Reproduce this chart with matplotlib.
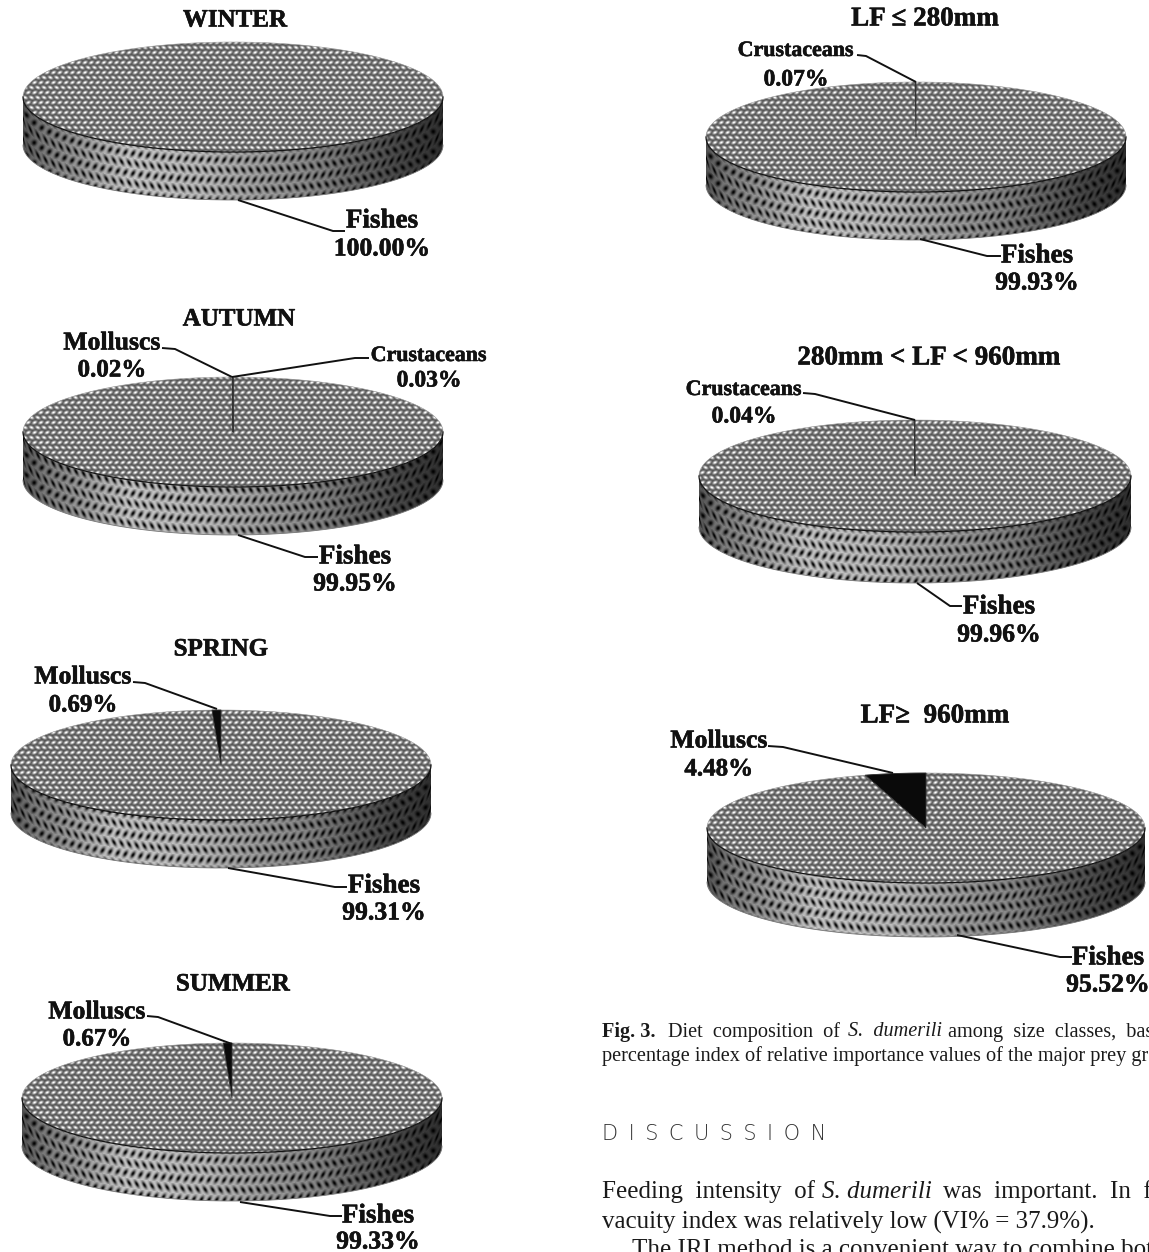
"""Flat-disc 3D pies of diet composition by season and by size class."""

import numpy as np
import matplotlib
matplotlib.use("Agg")
import matplotlib.pyplot as plt
import matplotlib.patheffects as pe
from matplotlib.path import Path
from matplotlib.patches import PathPatch

W, H = 1149, 1252
SERIF = "Liberation Serif"

# ---------------------------------------------------------------------------
# Data
# ---------------------------------------------------------------------------

panel_titles = ["WINTER", "AUTUMN", "SPRING", "SUMMER",
                "LF \u2264 280mm", "280mm < LF < 960mm", "LF\u2265  960mm"]

# slices run anticlockwise from 12 o'clock, fishes last
winter_groups = ["Fishes"]
winter_values = [100.00]
autumn_groups = ["Molluscs", "Crustaceans", "Fishes"]
autumn_values = [0.02, 0.03, 99.95]
spring_groups = ["Molluscs", "Fishes"]
spring_values = [0.69, 99.31]
summer_groups = ["Molluscs", "Fishes"]
summer_values = [0.67, 99.33]
small_groups = ["Crustaceans", "Fishes"]
small_values = [0.07, 99.93]
medium_groups = ["Crustaceans", "Fishes"]
medium_values = [0.04, 99.96]
large_groups = ["Molluscs", "Fishes"]
large_values = [4.48, 95.52]

all_groups = [winter_groups, autumn_groups, spring_groups, summer_groups,
              small_groups, medium_groups, large_groups]
all_values = [winter_values, autumn_values, spring_values, summer_values,
              small_values, medium_values, large_values]

# ---------------------------------------------------------------------------
# Layout, in figure pixels (y down)
# ---------------------------------------------------------------------------

# cx, cy, rx, ry, depth
discs = [(233, 97, 210, 55, 48), (233, 432, 210, 55, 48),
         (221, 765, 210, 55, 48), (232, 1098, 210, 55, 48),
         (916, 137, 210, 55, 48), (915, 476, 216, 56, 51),
         (926, 828, 219, 55, 54)]
title_pos = [(235, 18), (239, 317), (221, 647), (233, 982),
             (925, 17), (929, 356), (935, 714)]
title_sizes = [18, 18, 18, 18, 19.5, 19.5, 19.5]

# per panel: group -> (label x, name y, percent y, leader polyline)
callouts = [
    {"Fishes": (382, 219, 247, [(238, 200), (333, 231), (345, 231)])},
    {"Molluscs": (112, 341, 368, [(162, 348), (175, 349), (232, 377)]),
     "Crustaceans": (429, 354, 379, [(369, 358), (355, 358), (232, 377)]),
     "Fishes": (355, 555, 582, [(238, 535), (305, 557), (318, 557)])},
    {"Molluscs": (83, 675, 703, [(133, 682), (145, 683), (217, 709)]),
     "Fishes": (384, 884, 911, [(228, 868), (335, 887), (347, 887)])},
    {"Molluscs": (97, 1010, 1037, [(147, 1016), (158, 1017), (232, 1044)]),
     "Fishes": (378, 1214, 1240, [(240, 1202), (330, 1216), (342, 1216)])},
    {"Crustaceans": (796, 49, 78, [(857, 55), (866, 56), (916, 82)]),
     "Fishes": (1037, 254, 281, [(920, 239), (987, 256), (1001, 256)])},
    {"Crustaceans": (744, 388, 415, [(803, 393), (815, 394), (915, 420)]),
     "Fishes": (999, 605, 633, [(917, 583), (950, 606), (962, 606)])},
    {"Molluscs": (719, 739, 767, [(768, 746), (783, 747), (893, 773)]),
     "Fishes": (1108, 956, 983, [(957, 935), (1060, 957), (1072, 957)])},
]
name_sizes = {"Fishes": 19.5, "Molluscs": 18.5, "Crustaceans": 15.8}
pct_sizes = {"Fishes": 18.5, "Molluscs": 18, "Crustaceans": 17}


# ---------------------------------------------------------------------------
# Fill textures
# ---------------------------------------------------------------------------

def brick_lattice(x, y, px, py, slant=0.0):
    """Offsets from the nearest cell centre of a brick lattice."""
    row = np.floor(y / py)
    dy = (y / py - row - 0.5) * py
    sign = np.where(row % 2 == 0, 1.0, -1.0)
    dx = (((x + slant * sign * dy) / px + 0.5 * row) % 1 - 0.5) * px
    return dx, dy


def top_texture(x, y):
    dx, dy = brick_lattice(x, y, 6.3, 5.0, slant=0.5)
    blob = np.exp(-(dx ** 2 / 4.2 + dy ** 2 / 2.8))
    return 0.32 + 0.68 * blob


def side_texture(x, y, u):
    dx, dy = brick_lattice(x, y, 7.6, 10.0, slant=0.45)
    blob = np.exp(-(dx ** 2 / 4.0 + dy ** 2 / 12.0))
    shade = np.interp(u, [-1, -0.9, -0.5, -0.15, 0.4, 0.8, 1],
                      [0.42, 0.62, 1.0, 0.95, 0.68, 0.36, 0.24])
    return shade * (0.78 - 0.76 * blob)


# ---------------------------------------------------------------------------
# Drawing
# ---------------------------------------------------------------------------

def sector_path(cx, cy, rx, ry, start, stop):
    """Sector of the top ellipse between two cumulative percentages."""
    theta = np.radians(np.linspace(start, stop, max(3, int(stop - start) * 4 + 3)) * 3.6)
    px = cx - rx * np.sin(theta)
    py = cy - ry * np.cos(theta)
    if stop - start >= 100:
        return Path(np.column_stack([px, py]), closed=False)
    verts = np.column_stack([np.r_[cx, px, cx], np.r_[cy, py, cy]])
    return Path(verts, closed=True)


def textured(ax, path, func, box):
    x0, x1, y0, y1 = box
    xs, ys = np.meshgrid(np.arange(x0, x1) + 0.5, np.arange(y0, y1) + 0.5)
    im = ax.imshow(func(xs, ys), cmap="gray", vmin=0, vmax=1, aspect="auto",
                   extent=(x0, x1, y1, y0), interpolation="bilinear", zorder=2)
    im.set_clip_path(PathPatch(path, transform=ax.transData))


def draw_disc(ax, cx, cy, rx, ry, depth, values):
    box_x = (cx - rx - 2, cx + rx + 2)

    # rim: front half of the ellipse swept down by the depth
    t = np.radians(np.linspace(0, 180, 181))
    front_x, front_y = cx + rx * np.cos(t), cy + ry * np.sin(t)
    rim = Path(np.column_stack([np.r_[front_x, front_x[::-1]],
                                np.r_[front_y, front_y[::-1] + depth]]), closed=True)

    def rim_fill(xs, ys):
        u = np.clip((xs - cx) / rx, -1, 1)
        follow = ry * np.sqrt(1 - u ** 2)
        return side_texture(xs, ys - follow, u)

    textured(ax, rim, rim_fill, (*box_x, cy - 2, cy + ry + depth + 2))
    ax.plot(front_x, front_y + depth, color="#777777", lw=0.6, zorder=3)

    # top face, one slice per value
    cum = np.r_[0, np.cumsum(values)]
    top_box = (*box_x, cy - ry - 2, cy + ry + 2)
    for i, v in enumerate(values):
        path = sector_path(cx, cy, rx, ry, cum[i], cum[i + 1])
        if i == len(values) - 1:
            textured(ax, path, top_texture, top_box)
        else:
            ax.add_patch(PathPatch(path, facecolor="#0a0a0a", edgecolor="#333333",
                                   lw=0.6, zorder=4))
    ax.plot(front_x, front_y, color="#151515", lw=0.9, zorder=5)
    back = np.radians(np.linspace(180, 360, 181))
    ax.plot(cx + rx * np.cos(back), cy + ry * np.sin(back),
            color="#999999", lw=0.4, zorder=3)


def bold_text(ax, x, y, s, size):
    # the stroke thickens the bold face a little
    ax.text(x, y + 2, s, ha="center", va="center", family=SERIF, fontweight="bold",
            fontsize=size, color="#111111",
            path_effects=[pe.withStroke(linewidth=0.4, foreground="#111111")])


def draw_labels(ax, groups, values, callout):
    for group, value in zip(groups, values):
        lx, name_y, pct_y, leader = callout[group]
        xs, ys = zip(*leader)
        ax.plot(xs, ys, color="#111111", lw=1.4, solid_capstyle="butt",
                solid_joinstyle="round", zorder=6)
        bold_text(ax, lx, name_y, group, name_sizes[group])
        bold_text(ax, lx, pct_y, f"{value:.2f}%", pct_sizes[group])


fig = plt.figure(figsize=(W / 100, H / 100), dpi=100)
ax = fig.add_axes([0, 0, 1, 1])

for i, title in enumerate(panel_titles):
    draw_disc(ax, *discs[i], all_values[i])
    draw_labels(ax, all_groups[i], all_values[i], callouts[i])
    bold_text(ax, *title_pos[i], title, title_sizes[i])

# running text beside the pies
caption_size = 14.6
body_size = 18
EN = "\u2002"
text_runs = [
    (602, 1030, "Fig. 3.", caption_size, "normal", "bold"),
    (668, 1030, EN.join("Diet composition of".split()), caption_size, "normal", "normal"),
    (848, 1030, EN.join("S. dumerili".split()), caption_size, "italic", "normal"),
    (948, 1030, EN.join("among size classes, base".split()), caption_size, "normal", "normal"),
    (602, 1054, "percentage index of relative importance values of the major prey gr",
     caption_size, "normal", "normal"),
    (602, 1190, EN.join("Feeding intensity of".split()), body_size, "normal", "normal"),
    (822, 1190, "S. dumerili", body_size, "italic", "normal"),
    (943, 1190, EN.join("was important. In f".split()), body_size, "normal", "normal"),
    (602, 1220, "vacuity index was relatively low (VI% = 37.9%).", body_size, "normal", "normal"),
    (632, 1248, "The IRI method is a convenient way to combine bot", body_size, "normal", "normal"),
]
for x, y, s, size, style, weight in text_runs:
    ax.text(x, y + 2, s, family=SERIF, fontsize=size, fontstyle=style, fontweight=weight,
            ha="left", va="center", color="#1a1a1a")

ax.text(602, 1134, EN.join("DISCUSSION"), family="DejaVu Sans", fontsize=15,
        ha="left", va="center", color="#333333", fontweight="light")

ax.set_xlim(0, W)
ax.set_ylim(H, 0)
ax.axis("off")

fig.savefig("out.png", dpi=100)
